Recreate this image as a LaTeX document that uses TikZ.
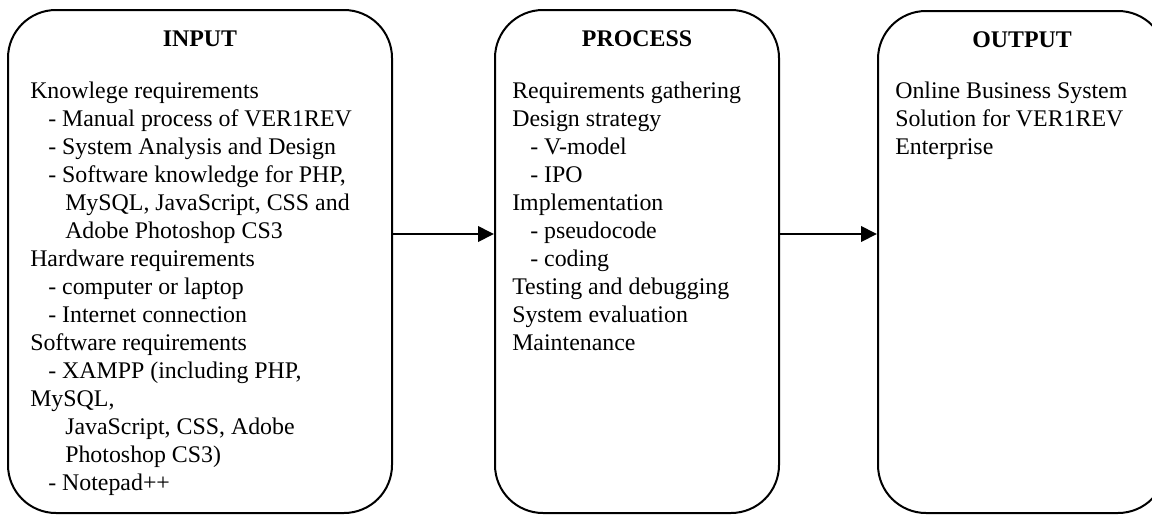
\documentclass[tikz,border=0pt]{standalone}
\usepackage{fontspec}
\setmainfont{Liberation Serif}
\usetikzlibrary{arrows.meta, positioning}

% indents for list items and their wrapped lines
\newcommand{\itemind}{\hspace*{13.5pt}}
\newcommand{\contind}{\hspace*{26.25pt}}

\begin{document}
\begin{tikzpicture}[x=0.75pt, y=-0.75pt, >={Triangle[length=12pt, width=11.5pt]},
    stage/.style={draw, line width=1.5pt, rounded corners=36pt, inner sep=0pt},
    title/.style={font=\fontsize{17.9}{21}\selectfont\bfseries, inner sep=0pt, anchor=north},
    body/.style={font=\fontsize{17.9}{21}\selectfont, align=left, anchor=north west, inner sep=0pt},
    flow/.style={->, line width=2pt}]
  \useasboundingbox (0,0) rectangle (1152,514);
  \clip (0,0) rectangle (1152,514);
  % The three IPO stages
  \node[stage, minimum width=288pt, minimum height=377.25pt] (input)   at (200, 261.5) {};
  \node[stage, minimum width=213pt, minimum height=377.25pt] (process) at (637, 261.5) {};
  \node[stage, minimum width=216pt, minimum height=376.5pt]  (output)  at (1022, 262) {};
  \node[title, below=16pt of input.north]   (input-title)   {INPUT};
  \node[title, below=16pt of process.north] (process-title) {PROCESS};
  \node[title, below=16pt of output.north]  (output-title)  {OUTPUT};
  % Contents
  \node[body] (input-text) at (30, 82) {Knowlege requirements\\
    \itemind- Manual process of VER1REV\\
    \itemind- System Analysis and Design\\
    \itemind- Software knowledge for PHP,\\
    \contind MySQL, JavaScript, CSS and\\
    \contind Adobe Photoshop CS3\\
    Hardware requirements\\
    \itemind- computer or laptop\\
    \itemind- Internet connection\\
    Software requirements\\
    \itemind- XAMPP (including PHP,\\
    MySQL,\\
    \contind JavaScript, CSS, Adobe\\
    \contind Photoshop CS3)\\
    \itemind- Notepad++};
  \node[body] (process-text) at (512, 82) {Requirements gathering\\
    Design strategy\\
    \itemind- V-model\\
    \itemind- IPO\\
    Implementation\\
    \itemind- pseudocode\\
    \itemind- coding\\
    Testing and debugging\\
    System evaluation\\
    Maintenance};
  \node[body] (output-text) at (895, 82) {Online Business System\\
    Solution for VER1REV\\
    Enterprise};
  % Flow arrows
  \coordinate (flowrow) at (0, 234);
  \draw[flow] (input.east |- flowrow) -- (process.west |- flowrow);
  \draw[flow] (process.east |- flowrow) -- (output.west |- flowrow);
\end{tikzpicture}
\end{document}
